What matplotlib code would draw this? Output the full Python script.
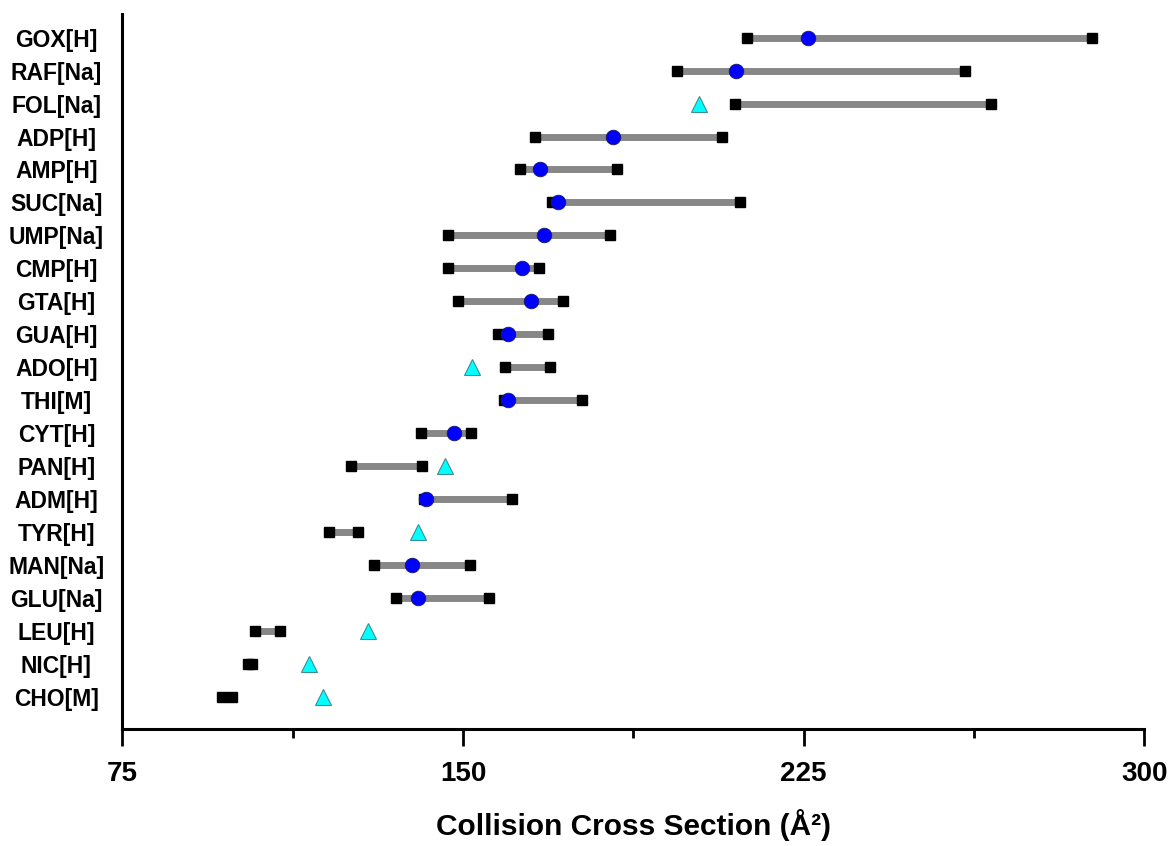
import numpy as np
import matplotlib
matplotlib.use("Agg")
import matplotlib.pyplot as plt
from matplotlib.ticker import MultipleLocator

# Dados (de cima para baixo)
labels = ["GOX[H]", "RAF[Na]", "FOL[Na]", "ADP[H]", "AMP[H]", "SUC[Na]", "UMP[Na]",
          "CMP[H]", "GTA[H]", "GUA[H]", "ADO[H]", "THI[M]", "CYT[H]", "PAN[H]",
          "ADM[H]", "TYR[H]", "MAN[Na]", "GLU[Na]", "LEU[H]", "NIC[H]", "CHO[M]"]
ccs_low = [212.5, 197.1, 209.9, 165.8, 162.6, 169.6, 146.6, 146.6, 148.8, 157.7, 159.2,
           159.1, 140.7, 125.4, 141.5, 120.4, 130.4, 135.2, 104.1, 102.7, 97.0]
ccs_high = [288.5, 260.6, 266.3, 206.9, 183.9, 210.9, 182.4, 166.7, 172.0, 168.6, 169.2,
            176.2, 151.7, 140.9, 160.8, 126.8, 151.6, 155.8, 109.7, 103.6, 99.2]
nan = np.nan
ccs_circle = [226.0, 210.0, nan, 183.0, 167.0, 171.0, 167.9, 163.0, 165.0, 160.0, nan,
              160.0, 148.0, nan, 141.9, nan, 138.8, 140.0, nan, nan, nan]
ccs_triangle = [nan, nan, 202.0, nan, nan, nan, nan, nan, nan, nan, 151.9,
                nan, nan, 146.0, nan, 140.0, nan, nan, 129.0, 116.0, 119.1]

plt.rcParams['font.family'] = ['Liberation Sans', 'DejaVu Sans']
plt.rcParams['font.weight'] = 'bold'

n = len(labels)
ypos = np.arange(n, 0, -1)

fig = plt.figure(figsize=(11.68, 8.46), dpi=100)
ax = fig.add_axes([0.1048, 0.1383, 0.875, 0.8452])

# Barras cinza entre os extremos
ax.hlines(ypos, ccs_low, ccs_high, color='#878787', lw=5, zorder=2)
# Quadrados pretos nos extremos
ax.plot(ccs_low, ypos, 's', color='black', ms=7.5, zorder=3)
ax.plot(ccs_high, ypos, 's', color='black', ms=7.5, zorder=3)
# Triângulos ciano
ax.plot(ccs_triangle, ypos, '^', mfc='#00ffff', mec='#3a8f94', mew=0.8, ms=12, zorder=4)
# Círculos azuis
ax.plot(ccs_circle, ypos, 'o', mfc='#0000ff', mec='#1a1a60', mew=0.6, ms=10.5, zorder=5)

ax.set_xlim(75, 300)
ax.set_ylim(0.02, 21.72)

ax.xaxis.set_major_locator(MultipleLocator(75))
ax.xaxis.set_minor_locator(MultipleLocator(37.5))
ax.tick_params(axis='x', which='major', direction='out', length=12, width=2,
               labelsize=20, pad=11)
ax.tick_params(axis='x', which='minor', direction='out', length=6.5, width=2)

ax.set_yticks(ypos)
ax.set_yticklabels(labels)
ax.tick_params(axis='y', length=0, labelsize=16.5, pad=47.5)
for lab in ax.get_yticklabels():
    lab.set_horizontalalignment('center')
    lab.set_fontweight('bold')
for lab in ax.get_xticklabels():
    lab.set_fontweight('bold')

for s in ['top', 'right']:
    ax.spines[s].set_visible(False)
for s in ['left', 'bottom']:
    ax.spines[s].set_linewidth(2.2)

ax.set_xlabel('Collision Cross Section (Å²)', fontsize=21.5, fontweight='bold', labelpad=16)

plt.savefig('out.png', dpi=100)
